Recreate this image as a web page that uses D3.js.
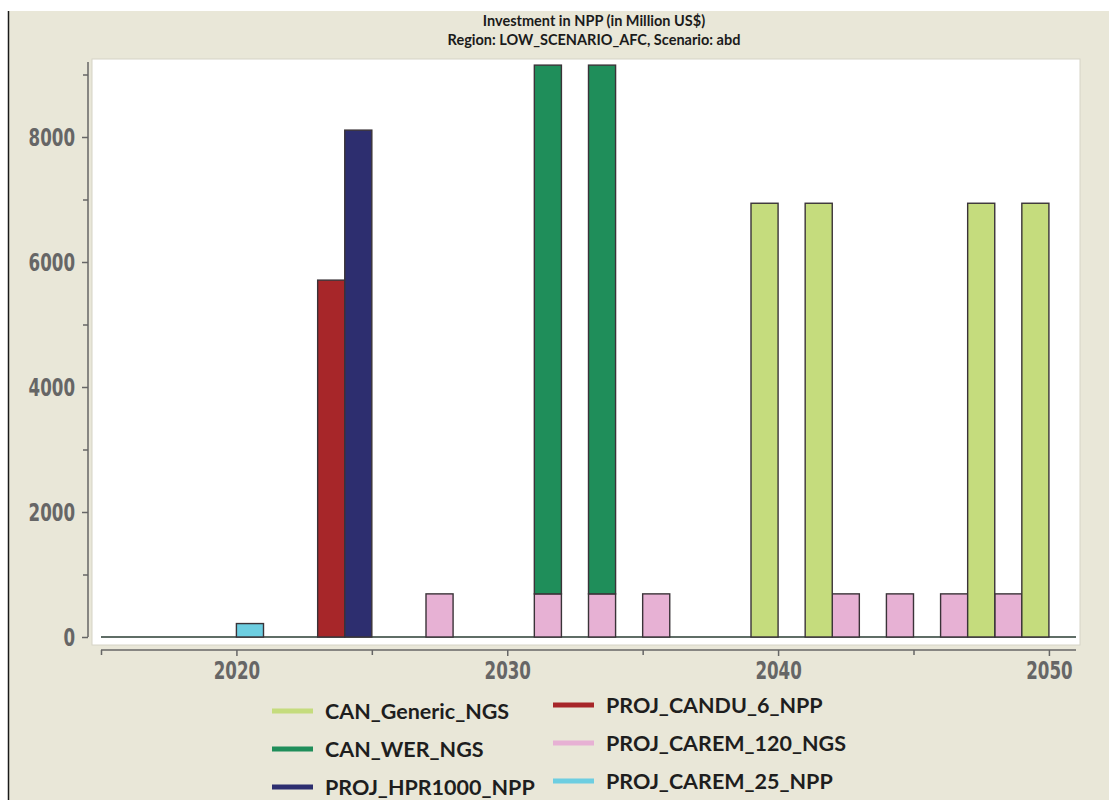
<!DOCTYPE html>
<html><head><meta charset="utf-8">
<script src="https://cdn.jsdelivr.net/npm/d3@7"></script>
<style>body{margin:0;background:#fff;} svg{display:block;}</style>
</head><body><svg id="chart" width="1109" height="800"></svg>
<script>
// ---- data ----
const years = [2020, 2023, 2024, 2027, 2031, 2033, 2035, 2039, 2041, 2042, 2044, 2046, 2047, 2048, 2049];
const CAN_Generic_NGS    = [0, 0, 0, 0, 0, 0, 0, 6940, 6940, 0, 0, 0, 6940, 0, 6940];
const CAN_WER_NGS        = [0, 0, 0, 0, 8460, 8460, 0, 0, 0, 0, 0, 0, 0, 0, 0];
const PROJ_HPR1000_NPP   = [0, 0, 8110, 0, 0, 0, 0, 0, 0, 0, 0, 0, 0, 0, 0];
const PROJ_CANDU_6_NPP   = [0, 5710, 0, 0, 0, 0, 0, 0, 0, 0, 0, 0, 0, 0, 0];
const PROJ_CAREM_120_NGS = [0, 0, 0, 690, 690, 690, 690, 0, 0, 690, 690, 690, 0, 690, 0];
const PROJ_CAREM_25_NPP  = [215, 0, 0, 0, 0, 0, 0, 0, 0, 0, 0, 0, 0, 0, 0];
const yMajorTicks = [0, 2000, 4000, 6000, 8000];
const xMajorTicks = [2020, 2030, 2040, 2050];
const xMinorTicks = [2015, 2025, 2035, 2045];
const titleLines = ["Investment in NPP (in Million US$)", "Region: LOW_SCENARIO_AFC, Scenario: abd"];
const legendCol1 = ["CAN_Generic_NGS", "CAN_WER_NGS", "PROJ_HPR1000_NPP"];
const legendCol2 = ["PROJ_CANDU_6_NPP", "PROJ_CAREM_120_NGS", "PROJ_CAREM_25_NPP"];

const seriesData = {
  CAN_Generic_NGS, CAN_WER_NGS, PROJ_HPR1000_NPP, PROJ_CANDU_6_NPP, PROJ_CAREM_120_NGS, PROJ_CAREM_25_NPP
};
const stackOrder = ["PROJ_CAREM_120_NGS", "PROJ_CAREM_25_NPP", "PROJ_CANDU_6_NPP", "PROJ_HPR1000_NPP", "CAN_WER_NGS", "CAN_Generic_NGS"];
const colors = {
  CAN_Generic_NGS: "#c5dc7d",
  CAN_WER_NGS: "#1f8e5a",
  PROJ_HPR1000_NPP: "#2d2e6f",
  PROJ_CANDU_6_NPP: "#a72629",
  PROJ_CAREM_120_NGS: "#e7b1d4",
  PROJ_CAREM_25_NPP: "#6dcee1"
};

const rows = years.map((yr, i) => {
  const r = { year: yr };
  for (const k of stackOrder) r[k] = seriesData[k][i];
  return r;
});

// ---- setup ----
const svg = d3.select("#chart");
const W = 1109, H = 800;
const axisFont = "'Liberation Sans Narrow','Arial Narrow','DejaVu Sans Condensed',sans-serif";

svg.append("rect").attr("x", 0).attr("y", 0).attr("width", W).attr("height", H).attr("fill", "#ffffff");
svg.append("rect").attr("x", 9).attr("y", 11).attr("width", W - 9).attr("height", H - 11).attr("fill", "#e9e7d8");
svg.append("line").attr("x1", 8.5).attr("x2", 8.5).attr("y1", 11).attr("y2", H).attr("stroke", "#1a1a1a").attr("stroke-width", 1.5);

const x = d3.scaleLinear().domain([2015, 2051]).range([101, 1076]);
const y = d3.scaleLinear().domain([0, 9000]).range([637, 74.5]);

// plot area
svg.append("rect").attr("x", 92).attr("y", 59).attr("width", 988).attr("height", 586)
  .attr("fill", "#ffffff").attr("stroke", "#d6d4c6").attr("stroke-width", 1);

// title
const title = svg.append("g").attr("font-family", "Lato, 'Open Sans', sans-serif")
  .attr("font-weight", "bold").attr("font-size", 14.5).attr("fill", "#1b1b1b").attr("text-anchor", "middle");
titleLines.forEach((t, i) => {
  title.append("text").attr("x", 594).attr("y", 26 + i * 19).text(t);
});

// zero baseline
svg.append("line").attr("x1", x(2015)).attr("x2", x(2051)).attr("y1", y(0)).attr("y2", y(0))
  .attr("stroke", "#5f6d66").attr("stroke-width", 2);

// bars
const stacked = d3.stack().keys(stackOrder)(rows);
const barG = svg.append("g");
stacked.forEach(layer => {
  barG.append("g").attr("fill", colors[layer.key])
    .selectAll("rect").data(layer.filter(d => d[1] - d[0] > 0)).join("rect")
    .attr("x", d => x(d.data.year))
    .attr("width", d => x(d.data.year + 1) - x(d.data.year))
    .attr("y", d => y(d[1]))
    .attr("height", d => y(d[0]) - y(d[1]))
    .attr("stroke", "#3a3338").attr("stroke-width", 1.4);
});

function styleLabels(g) {
  g.selectAll("text").attr("font-family", axisFont).attr("font-weight", "bold")
    .attr("font-size", 25).attr("fill", "#666")
    .attr("lengthAdjust", "spacingAndGlyphs")
    .attr("textLength", function() { return this.textContent.length * 11.6; });
}

// y axis
const yAxisG = svg.append("g").attr("transform", "translate(88,0)");
yAxisG.append("line").attr("x1", 0).attr("x2", 0).attr("y1", y(9200)).attr("y2", y(0))
  .attr("stroke", "#666").attr("stroke-width", 1.5);
const yMinor = d3.range(1000, 10000, 2000);
yAxisG.append("g").call(d3.axisLeft(y).tickValues(yMinor).tickSize(5).tickFormat(""))
  .call(g => g.select(".domain").remove())
  .call(g => g.selectAll("line").attr("stroke", "#666").attr("stroke-width", 1.5));
yAxisG.append("g").call(d3.axisLeft(y).tickValues(yMajorTicks).tickSize(6).tickPadding(7).tickFormat(d3.format("d")))
  .call(g => g.select(".domain").remove())
  .call(g => g.selectAll("line").attr("stroke", "#666").attr("stroke-width", 1.5))
  .call(styleLabels);

// x axis
const xAxisG = svg.append("g").attr("transform", "translate(0,650)");
xAxisG.append("line").attr("x1", x(2015)).attr("x2", x(2051)).attr("y1", 0).attr("y2", 0)
  .attr("stroke", "#666").attr("stroke-width", 1.5);
xAxisG.append("g").call(d3.axisBottom(x).tickValues(xMinorTicks).tickSize(5).tickFormat(""))
  .call(g => g.select(".domain").remove())
  .call(g => g.selectAll("line").attr("stroke", "#666").attr("stroke-width", 1.5));
xAxisG.append("g").call(d3.axisBottom(x).tickValues(xMajorTicks).tickSize(6).tickPadding(5).tickFormat(d3.format("d")))
  .call(g => g.select(".domain").remove())
  .call(g => g.selectAll("line").attr("stroke", "#666").attr("stroke-width", 1.5))
  .call(styleLabels);

// legend
const legend = svg.append("g").attr("font-family", "Lato, 'Open Sans', sans-serif")
  .attr("font-weight", "bold").attr("font-size", 21.5).attr("fill", "#1e1e1e");
const cols = [
  { names: legendCol1, sx: 272, tx: 325, y0: 711 },
  { names: legendCol2, sx: 553, tx: 606, y0: 705 }
];
cols.forEach(c => {
  c.names.forEach((n, i) => {
    const yy = c.y0 + i * 38;
    legend.append("line").attr("x1", c.sx).attr("x2", c.sx + 41).attr("y1", yy).attr("y2", yy)
      .attr("stroke", colors[n]).attr("stroke-width", 5);
    legend.append("text").attr("x", c.tx).attr("y", yy + 8).text(n);
  });
});
</script></body></html>
